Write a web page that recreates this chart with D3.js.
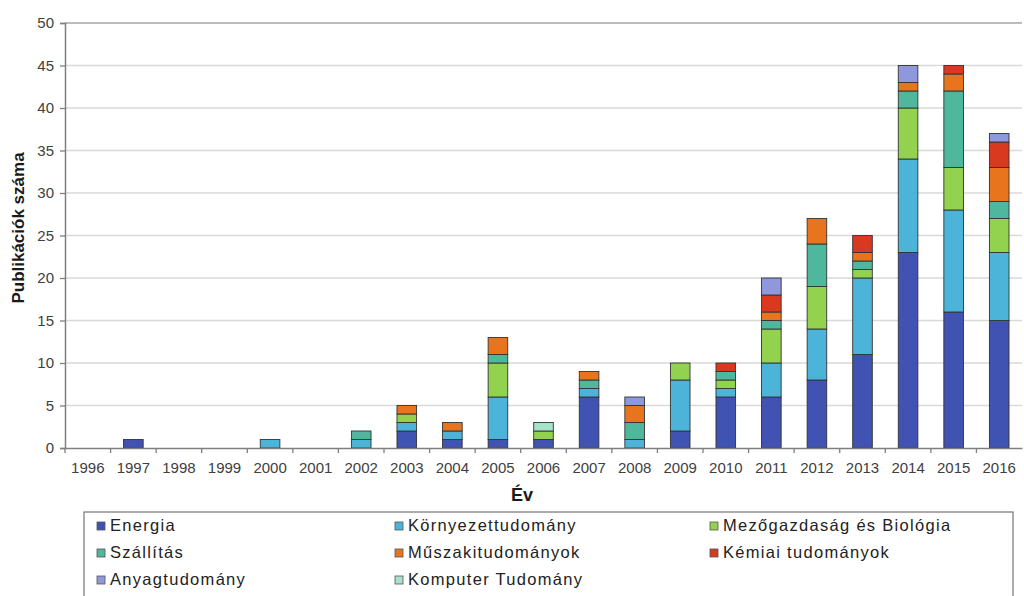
<!DOCTYPE html>
<html><head><meta charset="utf-8">
<script src="https://cdn.jsdelivr.net/npm/d3@7"></script>
<style>body{margin:0;background:#fff}svg{display:block}</style>
</head><body><svg id="c" width="1024" height="596"></svg>
<script>
const years = ["1996","1997","1998","1999","2000","2001","2002","2003","2004","2005","2006","2007","2008","2009","2010","2011","2012","2013","2014","2015","2016"];
const seriesNames = ["Energia","Környezettudomány","Mezőgazdaság és Biológia","Szállítás","Műszakitudományok","Kémiai tudományok","Anyagtudomány","Komputer Tudomány"];
const colors = ["#4053b2","#4cb4d9","#93d24f","#4fb89c","#e8751e","#d9391f","#8f97dd","#a8e2cc"];
const energia      = [0,1,0,0,0,0,0,2,1,1,1,6,0,2,6,6,8,11,23,16,15];
const kornyezet    = [0,0,0,0,1,0,1,1,1,5,0,1,1,6,1,4,6,9,11,12,8];
const mezogazdasag = [0,0,0,0,0,0,0,1,0,4,1,0,0,2,1,4,5,1,6,5,4];
const szallitas    = [0,0,0,0,0,0,1,0,0,1,0,1,2,0,1,1,5,1,2,9,2];
const muszaki      = [0,0,0,0,0,0,0,1,1,2,0,1,2,0,0,1,3,1,1,2,4];
const kemiai       = [0,0,0,0,0,0,0,0,0,0,0,0,0,0,1,2,0,2,0,1,3];
const anyag        = [0,0,0,0,0,0,0,0,0,0,0,0,1,0,0,2,0,0,2,0,1];
const komputer     = [0,0,0,0,0,0,0,0,0,0,1,0,0,0,0,0,0,0,0,0,0];
const seriesValues = [energia,kornyezet,mezogazdasag,szallitas,muszaki,kemiai,anyag,komputer];
const yTicks = [0,5,10,15,20,25,30,35,40,45,50];

const svg = d3.select("#c");
const L = 65, R = 1022, T = 23, B = 448;
const x = d3.scaleBand().domain(years).range([L, R]).padding(0);
const y = d3.scaleLinear().domain([0, 50]).range([B, T]);
const barW = x.bandwidth() * 0.43;

// grid
svg.append("g").selectAll("line").data(yTicks.filter(d => d > 0)).join("line")
  .attr("x1", L).attr("x2", R).attr("y1", d => y(d)).attr("y2", d => y(d))
  .attr("stroke", d => d === 50 ? "#a6a6a6" : "#d9d9d9").attr("stroke-width", 1.3);

// stacked data
const rows = years.map((yr, i) => { const o = {year: yr}; seriesNames.forEach((s, k) => o[s] = seriesValues[k][i]); return o; });
const stack = d3.stack().keys(seriesNames)(rows);
svg.append("g").selectAll("g").data(stack).join("g")
  .attr("fill", (d, i) => colors[i])
  .selectAll("rect").data(d => d.filter(p => p[1] - p[0] > 0)).join("rect")
  .attr("x", d => x(d.data.year) + (x.bandwidth() - barW) / 2)
  .attr("width", barW)
  .attr("y", d => y(d[1]))
  .attr("height", d => y(d[0]) - y(d[1]))
  .attr("stroke", "#333").attr("stroke-width", 0.9);

// y axis
const yAxis = d3.axisLeft(y).tickValues(yTicks).tickSize(5).tickPadding(6);
const gy = svg.append("g").attr("transform", `translate(${L},0)`).call(yAxis);
gy.select(".domain").attr("stroke", "#7f7f7f").attr("stroke-width", 1.5);
gy.selectAll(".tick line").attr("stroke", "#7f7f7f").attr("stroke-width", 1.3);
gy.selectAll(".tick text").attr("fill", "#404040").style("font-family", "Liberation Sans, Arial, sans-serif").style("font-size", "15px");

// x axis
const xAxis = d3.axisBottom(x).tickSize(0).tickPadding(14);
const gx = svg.append("g").attr("transform", `translate(0,${B})`).call(xAxis);
gx.select(".domain").attr("stroke", "#7f7f7f").attr("stroke-width", 1.5);
gx.selectAll(".tick text").attr("fill", "#404040").style("font-family", "Liberation Sans, Arial, sans-serif").style("font-size", "15px");
// tick marks between categories
svg.append("g").selectAll("line").data(years).join("line")
  .attr("x1", d => x(d)).attr("x2", d => x(d)).attr("y1", B).attr("y2", B + 5)
  .attr("stroke", "#7f7f7f").attr("stroke-width", 1.3);

// axis titles
svg.append("text").attr("transform", `translate(24,228) rotate(-90)`)
  .attr("text-anchor", "middle").attr("fill", "#1a1a1a")
  .style("font-family", "Liberation Sans, Arial, sans-serif").style("font-size", "17px").style("font-weight", "bold")
  .text("Publikációk száma");
svg.append("text").attr("x", 522).attr("y", 501).attr("text-anchor", "middle").attr("fill", "#1a1a1a")
  .style("font-family", "Liberation Sans, Arial, sans-serif").style("font-size", "18px").style("font-weight", "bold")
  .text("Év");

// legend
svg.append("rect").attr("x", 84).attr("y", 512).attr("width", 929).attr("height", 100)
  .attr("fill", "#fff").attr("stroke", "#7f7f7f").attr("stroke-width", 1.3);
const colX = [97, 395, 710], rowY = [531, 558, 585];
const leg = svg.append("g").selectAll("g").data(seriesNames).join("g")
  .attr("transform", (d, i) => `translate(${colX[i % 3]},${rowY[Math.floor(i / 3)]})`);
leg.append("rect").attr("x", 0).attr("y", -9).attr("width", 8).attr("height", 8)
  .attr("fill", (d, i) => colors[i]).attr("stroke", "#555").attr("stroke-width", 0.8);
leg.append("text").attr("x", 13).attr("y", 0).attr("fill", "#222")
  .style("font-family", "Liberation Sans, Arial, sans-serif").style("font-size", "16.5px").style("letter-spacing", "1.3px")
  .text(d => d);
</script></body></html>
